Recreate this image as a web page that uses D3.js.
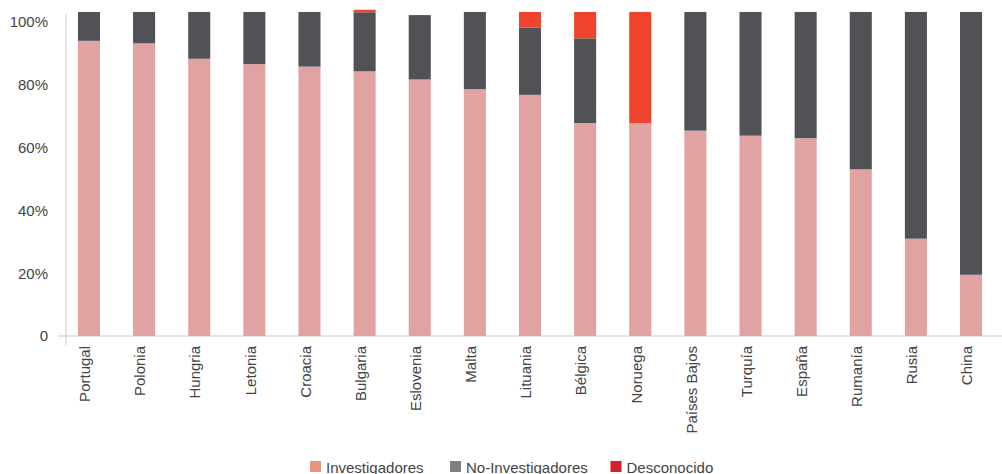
<!DOCTYPE html>
<html>
<head>
<meta charset="utf-8">
<script src="https://cdn.jsdelivr.net/npm/d3@7"></script>
<style>
  body { margin: 0; background: #fff; }
  text { font-family: "Liberation Sans", Arial, sans-serif; }
</style>
</head>
<body>
<div class="stackChart"></div>
<script>
// data (percent of workers)
let countries = ['Portugal', 'Polonia', 'Hungria', 'Letonia', 'Croacia', 'Bulgaria', 'Eslovenia',
  'Malta', 'Lituania', 'Bélgica', 'Noruega', 'Países Bajos', 'Turquía', 'España', 'Rumanía', 'Rusia', 'China'];
let investigadores =   [94.0, 93.2, 88.3, 86.6, 85.8, 84.3, 81.7, 78.6, 76.8, 67.8, 67.8, 65.4, 63.8, 63.0, 53.1, 31.0, 19.5];
let noInvestigadores = [ 9.2, 10.0, 14.9, 16.6, 17.4, 18.8, 20.5, 24.6, 21.4, 27.0,  0.0, 37.8, 39.4, 40.2, 50.1, 72.2, 83.7];
let desconocido =      [ 0.0,  0.0,  0.0,  0.0,  0.0,  0.8,  0.0,  0.0,  5.0,  8.4, 35.4,  0.0,  0.0,  0.0,  0.0,  0.0,  0.0];
let yTicks = [0, 20, 40, 60, 80, 100];

let seriesNames = ['Investigadores', 'No-Investigadores', 'Desconocido'];
let barColors = ['#e1a2a2', '#515256', '#f0432d'];
let legendColors = ['#e8957d', '#7f7f82', '#d4222b'];

let width = 1002;
let height = 474;

let svg = d3.select('.stackChart')
  .append('svg')
  .attr('width', width)
  .attr('height', height);

let rows = countries.map(function(c, i) {
  return {
    country: c,
    'Investigadores': investigadores[i],
    'No-Investigadores': noInvestigadores[i],
    'Desconocido': desconocido[i]
  };
});

let stacked = d3.stack().keys(seriesNames)(rows);

// scales
let xScale = d3.scaleBand()
  .domain(countries)
  .range([61.4, 998.6])
  .paddingInner(0.6)
  .paddingOuter(0.3);

let yScale = d3.scaleLinear()
  .domain([0, 100])
  .range([336, 22]);

// axis lines
svg.append('line')
  .attr('x1', 58).attr('x2', width)
  .attr('y1', yScale(0)).attr('y2', yScale(0))
  .attr('stroke', '#dcdcdc').attr('stroke-width', 1.5);

svg.append('line')
  .attr('x1', 66).attr('x2', 66)
  .attr('y1', 14).attr('y2', 345)
  .attr('stroke', '#dcdcdc').attr('stroke-width', 1.5);

// bars
svg.append('g')
  .selectAll('g')
  .data(stacked)
  .enter().append('g')
  .attr('fill', function(d, i) { return barColors[i]; })
  .selectAll('rect')
  .data(function(d) { return d; })
  .enter().append('rect')
  .attr('x', function(d) { return xScale(d.data.country); })
  .attr('width', xScale.bandwidth())
  .attr('y', function(d) { return yScale(d[1]); })
  .attr('height', function(d) { return yScale(d[0]) - yScale(d[1]); });

// y axis labels
let yAxis = svg.append('g')
  .attr('transform', 'translate(66, 0)')
  .call(d3.axisLeft(yScale)
    .tickValues(yTicks)
    .tickSize(0)
    .tickPadding(18)
    .tickFormat(function(d) { return d === 0 ? '0' : d + '%'; }));
yAxis.select('.domain').remove();
yAxis.selectAll('text')
  .attr('fill', '#444')
  .style('font-size', '15px')
  .style('font-family', '"Liberation Sans", Arial, sans-serif');

// x axis labels
let xAxis = svg.append('g')
  .attr('transform', 'translate(0,' + yScale(0) + ')')
  .call(d3.axisBottom(xScale).tickSize(0));
xAxis.select('.domain').remove();
xAxis.selectAll('text')
  .attr('transform', 'rotate(-90)')
  .attr('x', -10)
  .attr('y', -4)
  .attr('dy', '0.35em')
  .attr('text-anchor', 'end')
  .attr('fill', '#444')
  .style('font-size', '15px')
  .style('font-family', '"Liberation Sans", Arial, sans-serif');

// legend
let legendX = [310, 450, 610.5];
let legend = svg.append('g');
seriesNames.forEach(function(name, i) {
  legend.append('rect')
    .attr('x', legendX[i])
    .attr('y', 461)
    .attr('width', 11)
    .attr('height', 11)
    .attr('fill', legendColors[i]);
  legend.append('text')
    .attr('x', legendX[i] + 16)
    .attr('y', 472.5)
    .attr('fill', '#444')
    .style('font-size', '15px')
    .text(name);
});
</script>
</body>
</html>
